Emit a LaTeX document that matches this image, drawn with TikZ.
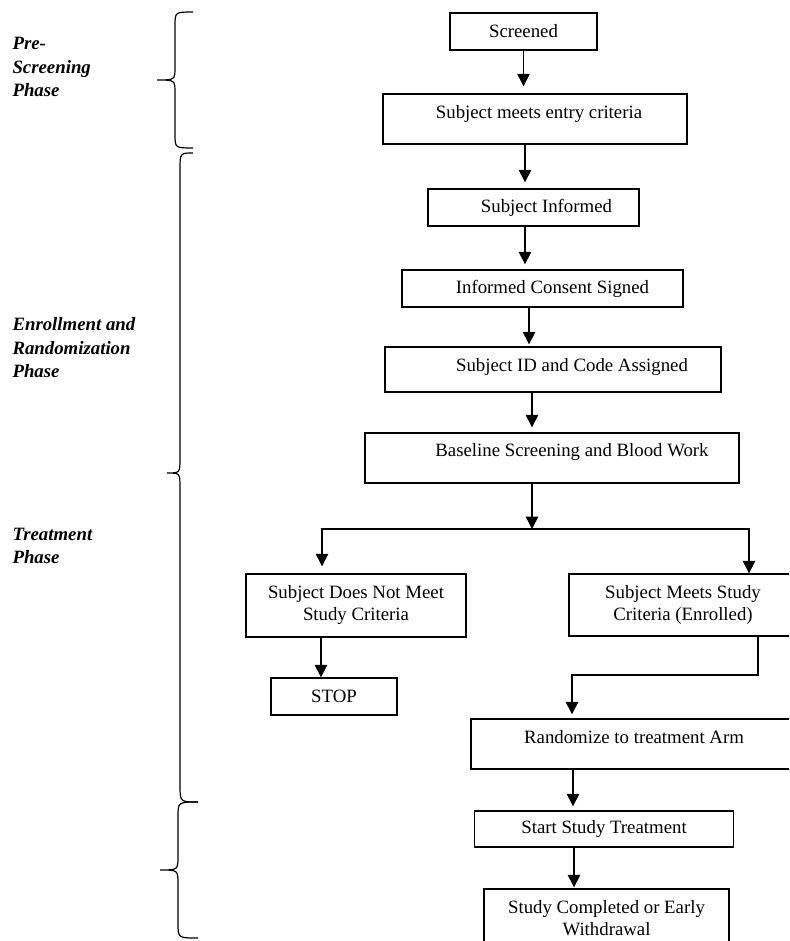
\documentclass[tikz,border=0pt]{standalone}
\usepackage{fontspec}
\setmainfont{Liberation Serif}
\usetikzlibrary{positioning,arrows.meta}

\tikzset{
  stepbox/.style={draw, line width=1.4pt, inner sep=0pt, align=center},
  flow/.style={line width=1.4pt, -{Triangle[width=12.5pt,length=12.5pt]}},
  phase/.style={anchor=west, align=left,
    font=\fontsize{18.8}{23.5}\selectfont\bfseries\itshape},
  bracepath/.style={line width=1.2pt}
}

\begin{document}
\begin{tikzpicture}[x=1pt, y=-1pt,
    every node/.style={font=\fontsize{18.8}{22}\selectfont}]
  \useasboundingbox (0,0) rectangle (789,941);
  \clip (0,0) rectangle (789,941);

  % phase labels
  \node[phase] (pre) at (9,67) {Pre-\\Screening\\Phase};
  \node[phase] (enr) at (9,348) {Enrollment and\\Randomization\\Phase};
  \node[phase] (trt) at (9,546) {Treatment\\Phase};

  % braces
  \draw[bracepath] (193,12) .. controls (175,12) .. (175,26) -- (175,67)
      .. controls (175,80) .. (157,80) .. controls (175,80) .. (175,93)
      -- (175,134) .. controls (175,148) .. (193,148);
  \draw[bracepath] (193,153) .. controls (180,153) .. (180,170) -- (180,458)
      .. controls (180,473) .. (167,473) .. controls (180,473) .. (180,488)
      -- (180,785) .. controls (180,802) .. (198,802);
  \draw[bracepath] (198,802) .. controls (178,802) .. (178,817) -- (178,856)
      .. controls (178,870) .. (160,870) .. controls (178,870) .. (178,884)
      -- (178,923) .. controls (178,938) .. (198,938);

  % main flow
  \node[stepbox, minimum width=147pt, minimum height=37pt] (scr) at (523.5,31.5) {Screened};
  \node[stepbox, minimum width=304pt, minimum height=50pt, text depth=14pt] (entry) at (535,119) {\hspace*{8pt}Subject meets entry criteria};
  \node[stepbox, minimum width=211pt, minimum height=37pt] (inf) at (533.5,207.5) {\hspace*{26pt}Subject Informed};
  \node[stepbox, minimum width=281pt, minimum height=37pt] (cons) at (542.5,288.5) {\hspace*{20pt}Informed Consent Signed};
  \node[stepbox, minimum width=336pt, minimum height=45pt, text depth=10pt] (sid) at (553,369.5) {\hspace*{38pt}Subject ID and Code Assigned};
  \node[stepbox, minimum width=374pt, minimum height=50pt, text depth=16pt] (base) at (552,458) {\hspace*{40pt}Baseline Screening and Blood Work};

  % split
  \node[stepbox, minimum width=220pt, minimum height=63pt] (nomeet) at (356,605.5) {Subject Does Not Meet\\Study Criteria};
  \node[stepbox, minimum width=126pt, minimum height=37pt] (stop) at (334,696.5) {STOP};
  \node[stepbox, minimum width=228pt, minimum height=62pt] (meets) at (683,605) {Subject Meets Study\\Criteria (Enrolled)};

  % treatment
  \node[stepbox, minimum width=326pt, minimum height=50pt, text depth=14pt] (rand) at (634,744) {Randomize to treatment Arm};
  \node[stepbox, minimum width=259pt, minimum height=36pt] (start) at (604,829) {Start Study Treatment};
  \node[stepbox, minimum width=245pt, minimum height=58pt] (done) at (606.5,918) {Study Completed or Early\\Withdrawal};

  \coordinate (split) at (532,529);
  \coordinate (bend) at (758,675);

  % connectors
  \draw[flow, shorten >=7pt] (523.5,0 |- scr.south) -- (523.5,0 |- entry.north);
  \draw[flow, shorten >=6pt] (525,0 |- entry.south) -- (525,0 |- inf.north);
  \draw[flow, shorten >=5pt] (525,0 |- inf.south) -- (525,0 |- cons.north);
  \draw[flow, shorten >=2pt] (529,0 |- cons.south) -- (529,0 |- sid.north);
  \draw[flow, shorten >=5pt] (532,0 |- sid.south) -- (532,0 |- base.north);
  \draw[flow] (532,0 |- base.south) -- (split);
  \draw[flow, shorten >=7pt] (split) -| (322,0 |- nomeet.north);
  \draw[flow] (split) -| (749,0 |- meets.north);
  \draw[flow] (321,0 |- nomeet.south) -- (321,0 |- stop.north);
  \draw[flow, shorten >=4pt] (bend |- meets.south) -- (bend) -| (572,0 |- rand.north);
  \draw[flow, shorten >=4pt] (573,0 |- rand.south) -- (573,0 |- start.north);
  \draw[flow, shorten >=1pt] (574,0 |- start.south) -- (574,0 |- done.north);
\end{tikzpicture}
\end{document}
